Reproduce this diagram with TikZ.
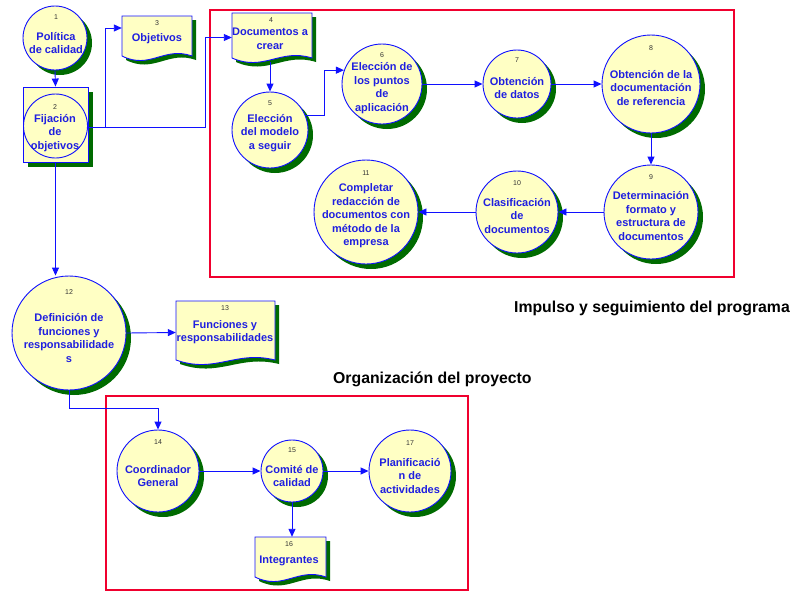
\documentclass[tikz,border=0pt]{standalone}
\usepackage{fontspec}
\setmainfont{Liberation Sans}
\usetikzlibrary{arrows.meta,shadows,fit}
\definecolor{fillY}{HTML}{FFFFC4}
\definecolor{shG}{HTML}{006B00}
\definecolor{lineB}{HTML}{1010FF}
\definecolor{txtB}{HTML}{1F1FE0}
\definecolor{redR}{HTML}{F0002E}
\newcommand{\mydoc}[5]{%
 \begin{scope}[shift={(4,4)}]
  \fill[shG] (#2,#3) -- (#4,#3) -- (#4,{#5-4}) .. controls ({#2+0.6*(#4-#2)},{#5-14}) and ({#2+0.4*(#4-#2)},{#5+10}) .. (#2,{#5-4}) -- cycle;
 \end{scope}
 \filldraw[fill=fillY,draw=lineB,line width=0.9pt] (#2,#3) -- (#4,#3) -- (#4,{#5-4}) .. controls ({#2+0.6*(#4-#2)},{#5-14}) and ({#2+0.4*(#4-#2)},{#5+10}) .. (#2,{#5-4}) -- cycle;
 \node[fit={(#2,#3) (#4,#5)}, inner sep=0pt] (#1) {};
}
\begin{document}
\begin{tikzpicture}[x=1pt,y=-1pt,
  circ/.style={circle, draw=lineB, line width=0.9pt, fill=fillY, inner sep=0pt,
    drop shadow={shadow xshift=5pt, shadow yshift=-5pt, fill=shG, opacity=1}},
  txt/.style={align=center, text=txtB, font=\fontsize{11}{13.5}\selectfont\bfseries, inner sep=0pt},
  num/.style={text=black!80, font=\fontsize{7}{8}\selectfont, inner sep=0pt},
  conn/.style={draw=lineB, line width=0.9pt, -{Triangle[length=8pt,width=7pt]}},
  redbox/.style={draw=redR, line width=2pt},
  title/.style={font=\fontsize{15.8}{18}\selectfont\bfseries, text=black, inner sep=0pt}]
\useasboundingbox (0,0) rectangle (797,592);

% red frames
\draw[redbox] (210,10) rectangle (734,277);
\draw[redbox] (106,396) rectangle (468,590);

% circles
\node[circ, minimum size=64pt] (n1) at (55,38) {};
\fill[shG] (28,92) rectangle (93,167);
\node[draw=lineB, line width=0.9pt, fill=fillY, minimum width=65pt, minimum height=75pt, inner sep=0pt] (b2) at (55.5,124.5) {};
\node[circle, draw=lineB, line width=0.9pt, minimum size=64pt, inner sep=0pt] (n2) at (55.5,126) {};
\mydoc{n3}{122}{16}{192}{60}
\mydoc{n4}{232}{13}{312}{62}
\node[circ, minimum size=76pt] (n5) at (270,130) {};
\node[circ, minimum size=80pt] (n6) at (382,84) {};
\node[circ, minimum size=68pt] (n7) at (517,84) {};
\node[circ, minimum size=98pt] (n8) at (651,84) {};
\node[circ, minimum size=94pt] (n9) at (651,212) {};
\node[circ, minimum size=82pt] (n10) at (517,212) {};
\node[circ, minimum size=104pt] (n11) at (366,212) {};
\node[circ, minimum size=114pt] (n12) at (69,333) {};
\mydoc{n13}{176}{301}{275}{364}
\node[circ, minimum size=82pt] (n14) at (158,471) {};
\node[circ, minimum size=62pt] (n15) at (292,471) {};
\mydoc{n16}{255}{537}{326}{581}
\node[circ, minimum size=82pt] (n17) at (410,471) {};

% numbers
\node[num] (k1) at (56,17) {1};
\node[num] (k2) at (55,107) {2};
\node[num] (k3) at (157,23) {3};
\node[num] (k4) at (271,20) {4};
\node[num] (k5) at (270,103) {5};
\node[num] (k6) at (382,55) {6};
\node[num] (k7) at (517,60) {7};
\node[num] (k8) at (651,48) {8};
\node[num] (k9) at (651,177) {9};
\node[num] (k10) at (517,183) {10};
\node[num] (k11) at (366,173) {11};
\node[num] (k12) at (69,292) {12};
\node[num] (k13) at (225,308) {13};
\node[num] (k14) at (158,442) {14};
\node[num] (k15) at (292,450) {15};
\node[num] (k16) at (289,544) {16};
\node[num] (k17) at (410,443) {17};

% texts
\node[txt] (t1) at (56,43) {Política\\de calidad};
\node[txt] (t2) at (55,133) {Fijación\\de\\objetivos};
\node[txt] (t3) at (157,39) {Objetivos};
\node[txt] (t4) at (270,39) {Documentos a\\crear};
\node[txt] (t5) at (270,133) {Elección\\del modelo\\a seguir};
\node[txt] (t6) at (382,88) {Elección de\\los puntos\\de\\aplicación};
\node[txt] (t7) at (517,88) {Obtención\\de datos};
\node[txt] (t8) at (651,88) {Obtención de la\\documentación\\de referencia};
\node[txt] (t9) at (651,216) {Determinación\\formato y\\estructura de\\documentos};
\node[txt] (t10) at (517,216) {Clasificación\\de\\documentos};
\node[txt] (t11) at (366,216) {Completar\\redacción de\\documentos con\\método de la\\empresa};
\node[txt] (t12) at (69,338) {Definición de\\funciones y\\responsabilidade\\s};
\node[txt] (t13) at (225,332) {Funciones y\\responsabilidades};
\node[txt] (t14) at (158,476) {Coordinador\\General};
\node[txt] (t15) at (292,476) {Comité de\\calidad};
\node[txt] (t16) at (289,561) {Integrantes};
\node[txt] (t17) at (410,476) {Planificació\\n de\\actividades};

% titles
\node[title, anchor=base east] (L1) at (790,312) {Impulso y seguimiento del programa};
\node[title, anchor=base west] (L2) at (333,383) {Organización del proyecto};

% connectors
\draw[conn] (n1.south) -- (b2.north);
\draw[conn] ([yshift=-3pt]b2.east) -- ++(17,0) |- ([yshift=10pt]n3.west);
\draw[conn] ([yshift=-3pt]b2.east) -- ++(117,0) |- (n4.west);
\draw[conn] (n4.south -| n5.north) -- (n5.north);
\draw[conn] (n5.23) -- ++(19,0) |- (n6.160);
\draw[conn] (n6.east) -- (n7.west);
\draw[conn] (n7.east) -- (n8.west);
\draw[conn] (n8.south) -- (n9.north);
\draw[conn] (n9.west) -- (n10.east);
\draw[conn] (n10.west) -- (n11.east);
\draw[conn] (b2.south) -- (b2.south |- n12.north);
\draw[conn] (n12.east) -- (n13.west);
\draw[conn] (n12.south) |- ([yshift=21pt]n14.north) -- (n14.north);
\draw[conn] (n14.east) -- (n15.west);
\draw[conn] (n15.east) -- (n17.west);
\draw[conn] (n15.south) -- (n16.north -| n15.south);
\end{tikzpicture}
\end{document}
